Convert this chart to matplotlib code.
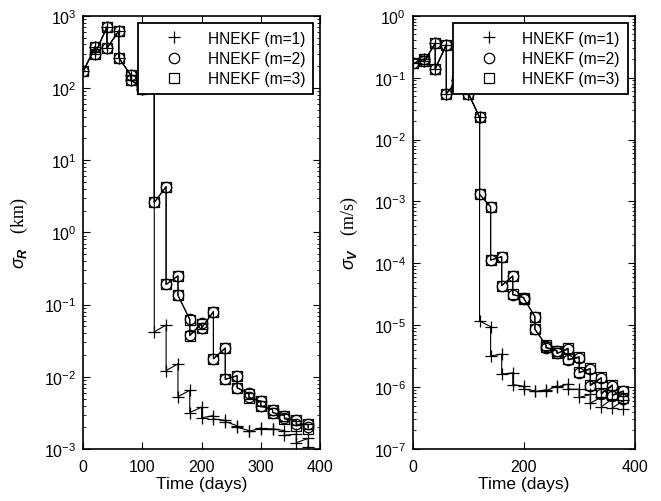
import matplotlib
matplotlib.use('Agg')
import matplotlib.pyplot as plt
import numpy as np

plt.rcParams['font.family'] = ['Liberation Sans', 'DejaVu Sans']
plt.rcParams['mathtext.fontset'] = 'custom'
plt.rcParams['mathtext.rm'] = 'Liberation Serif'
plt.rcParams['mathtext.it'] = 'Liberation Sans:italic'
plt.rcParams['mathtext.bf'] = 'Liberation Sans:bold:italic'

times = [0, 20, 40, 60, 80, 100, 120, 140, 160, 180, 200, 220, 240, 260, 280, 300, 320, 340, 360, 380]

# position error, predicted (before update) and updated values at each time
r_pred_m3 = [170, 370, 700, 615, 152, 105, 110, 4.3, 0.25, 0.062, 0.054, 0.080, 0.025, 0.0103,
             0.0058, 0.00455, 0.0035, 0.0029, 0.0025, 0.0022]
r_upd_m3 = [170, 300, 355, 262, 127, 97, 2.6, 0.19, 0.134, 0.037, 0.047, 0.0178, 0.0092, 0.0070,
            0.0051, 0.0039, 0.0032, 0.0026, 0.0021, 0.0019]
r_pred_m2 = [170, 370, 700, 615, 152, 105, 110, 4.3, 0.25, 0.063, 0.055, 0.080, 0.025, 0.0104,
             0.0059, 0.0046, 0.0035, 0.0029, 0.0025, 0.0022]
r_upd_m2 = [170, 300, 355, 262, 127, 97, 2.6, 0.19, 0.134, 0.038, 0.048, 0.0178, 0.0092, 0.0071,
            0.0052, 0.0040, 0.0032, 0.0027, 0.0022, 0.0020]
r_pred_m1 = [170, 370, 700, 615, 152, 105, 110, 0.052, 0.0151, 0.0065, 0.0038, 0.0029, 0.0025, 0.0021,
             0.0018, 0.00195, 0.0019, 0.0018, 0.0016, 0.0014]
r_upd_m1 = [170, 300, 355, 262, 127, 97, 0.042, 0.0122, 0.0053, 0.0032, 0.0027, 0.0026, 0.0024, 0.0020,
            0.00175, 0.0019, 0.0019, 0.00155, 0.00122, 0.00107]

# velocity error
v_pred_m3 = [0.17, 0.20, 0.36, 0.34, 0.09, 0.07, 0.023, 8.2e-4, 1.28e-4, 6.3e-5, 2.8e-5, 1.38e-5,
             4.8e-6, 3.9e-6, 4.26e-6, 3.1e-6, 2.0e-6, 1.43e-6, 1.09e-6, 8.7e-7]
v_upd_m3 = [0.17, 0.183, 0.14, 0.055, 0.075, 0.055, 1.3e-3, 1.13e-4, 4.37e-5, 3.16e-5, 2.7e-5, 8.6e-6,
            4.4e-6, 3.5e-6, 2.8e-6, 1.73e-6, 1.09e-6, 8.0e-7, 7.5e-7, 6.65e-7]
v_pred_m2 = [0.17, 0.20, 0.36, 0.34, 0.09, 0.07, 0.023, 8.2e-4, 1.28e-4, 6.2e-5, 2.8e-5, 1.38e-5,
             4.7e-6, 3.8e-6, 4.1e-6, 3.0e-6, 1.95e-6, 1.4e-6, 1.05e-6, 8.5e-7]
v_upd_m2 = [0.17, 0.183, 0.14, 0.055, 0.075, 0.055, 1.3e-3, 1.13e-4, 4.37e-5, 3.1e-5, 2.7e-5, 8.6e-6,
            4.3e-6, 3.5e-6, 2.75e-6, 1.7e-6, 1.05e-6, 7.8e-7, 7.3e-7, 6.5e-7]
v_pred_m1 = [0.17, 0.20, 0.36, 0.34, 0.09, 0.07, 0.023, 9.5e-6, 3.4e-6, 1.7e-6, 1.03e-6, 8.7e-7,
             9.0e-7, 1.05e-6, 1.12e-6, 9.2e-7, 7.6e-7, 6.9e-7, 6.5e-7, 6.1e-7]
v_upd_m1 = [0.17, 0.183, 0.14, 0.055, 0.075, 0.055, 1.17e-5, 3.2e-6, 1.62e-6, 1.1e-6, 9.3e-7, 8.5e-7,
            8.7e-7, 1.0e-6, 9.3e-7, 6.8e-7, 5.5e-7, 4.8e-7, 4.6e-7, 4.4e-7]


def sawtooth(t, pred, upd):
    # U_{k-1} -> P_k -> U_k
    xs, ys = [t[0]], [upd[0]]
    for k in range(1, len(t)):
        xs += [t[k], t[k]]
        ys += [pred[k], upd[k]]
    return np.array(xs), np.array(ys)


def draw(ax, series):
    styles = [('+', 'HNEKF (m=1)', 9), ('o', 'HNEKF (m=2)', 7.5), ('s', 'HNEKF (m=3)', 7.5)]
    for (pred, upd), (mk, lab, ms) in zip(series, styles):
        x, y = sawtooth(times, pred, upd)
        ax.plot(x, y, color='black', lw=0.8)
        ax.plot(x, y, ls='none', marker=mk, ms=ms, mfc='none', mec='black', mew=0.9, label=lab)
    ax.set_yscale('log')
    ax.set_xlim(0, 400)
    ax.tick_params(which='both', direction='in', top=True, right=True, labelsize=11.5)
    ax.tick_params(which='major', length=5)
    ax.tick_params(which='minor', length=2.5)
    ax.tick_params(axis='x', pad=7)
    ax.tick_params(axis='y', pad=5)
    for s in ax.spines.values():
        s.set_linewidth(1.2)
    ax.set_xlabel('Time (days)', fontsize=12.5, labelpad=1.5)
    leg = ax.legend(loc='upper right', fontsize=11.2, fancybox=False, framealpha=1,
                    edgecolor='black', borderaxespad=0.45, borderpad=0.5,
                    handlelength=3.6, handletextpad=0.35, labelspacing=0.35)
    leg.get_frame().set_linewidth(1.3)


fig = plt.figure(figsize=(6.61, 5.02), dpi=100)
ax1 = fig.add_axes([0.126, 0.1036, 0.358, 0.863])
ax2 = fig.add_axes([0.625, 0.1036, 0.335, 0.863])

draw(ax1, [(r_pred_m1, r_upd_m1), (r_pred_m2, r_upd_m2), (r_pred_m3, r_upd_m3)])
ax1.set_ylim(1e-3, 1e3)
ax1.set_xticks([0, 100, 200, 300, 400])
ax1.set_ylabel(r'$\sigma_{\mathbf{R}}\quad\mathrm{(km)}$', fontsize=13, labelpad=10)

draw(ax2, [(v_pred_m1, v_upd_m1), (v_pred_m2, v_upd_m2), (v_pred_m3, v_upd_m3)])
ax2.set_ylim(1e-7, 1e0)
ax2.set_xticks([0, 200, 400])
ax2.set_ylabel(r'$\sigma_{\mathbf{V}}\quad\mathrm{(m/s)}$', fontsize=13, labelpad=10)

fig.savefig('out.png', dpi=100)
